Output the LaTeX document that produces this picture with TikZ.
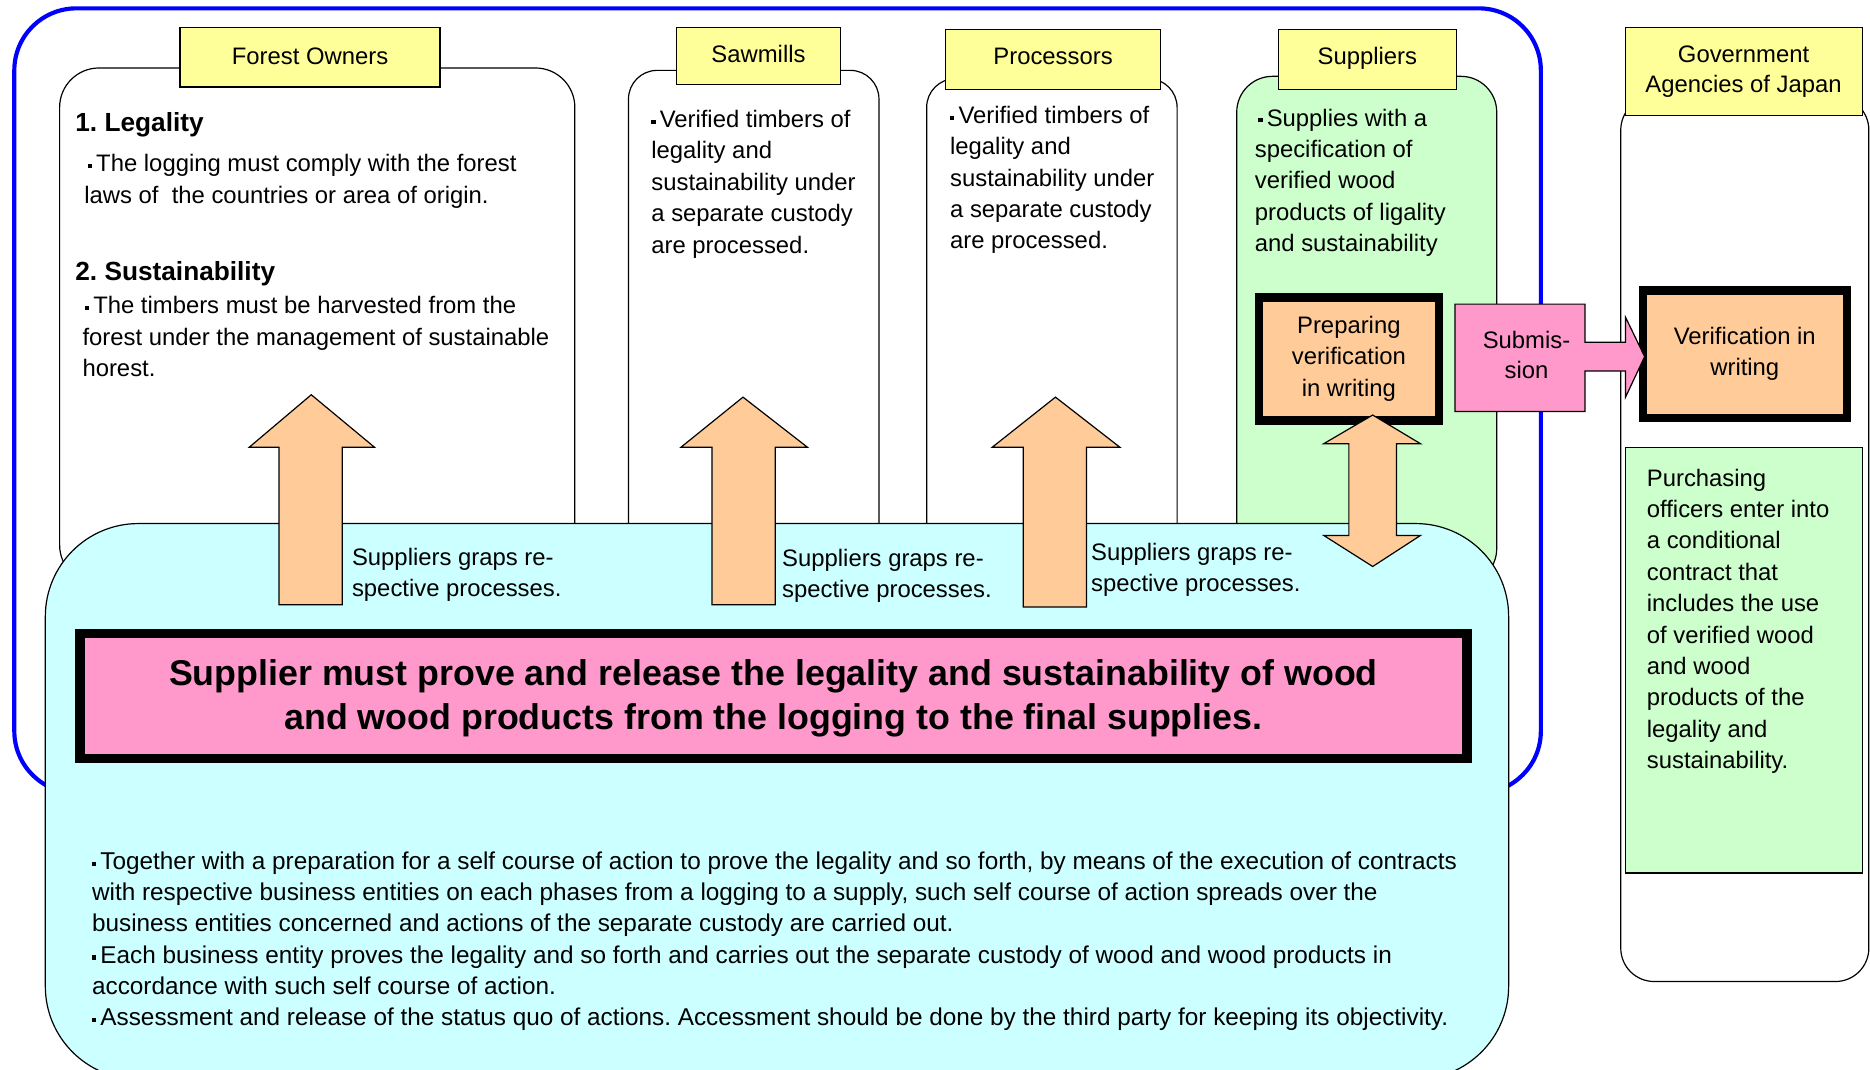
\documentclass[tikz,border=0pt]{standalone}
\usepackage{fontspec}
\setmainfont{Liberation Sans}
\frenchspacing
\definecolor{frameblue}{RGB}{0,0,255}
\definecolor{lblyellow}{RGB}{255,255,153}
\definecolor{boxcyan}{RGB}{204,255,255}
\definecolor{boxgreen}{RGB}{204,255,204}
\definecolor{boxpink}{RGB}{255,153,204}
\definecolor{boxorange}{RGB}{255,204,153}
\newcommand\bul{\rule[3pt]{3.5pt}{3.5pt}\hspace{3.5pt}}
\newcommand\fs{\fontsize{20}{26.3}\selectfont}
\newcommand\bfs{\fontsize{22}{26.3}\selectfont\bfseries}
\newcommand\tb[2]{\parbox[t]{#1}{\raggedright #2}}
\newcommand\tc[2]{\parbox[t]{#1}{\centering #2}}
\tikzset{
  thin/.style={draw=black, line width=1pt},
  colbox/.style={thin, fill=white, inner sep=0pt},
  lbl/.style={thin, fill=lblyellow, inner sep=0pt},
  thickbox/.style={draw=black, line width=7pt, fill=boxorange, inner sep=0pt},
  txt/.style={inner sep=0pt, anchor=base west, font=\fs},
  ctxt/.style={inner sep=0pt, anchor=base, font=\fs},
  blockarrow/.style={thin, fill=boxorange, line join=miter},
}
\begin{document}
\begin{tikzpicture}[x=1pt, y=-1pt]
\useasboundingbox (0,0) rectangle (1568,897);

% outer blue frame
\node[draw=frameblue, line width=3.5pt, rounded corners=52pt, minimum width=1280pt, minimum height=658pt, inner sep=0pt] (frame) at (652,336) {};

% column boxes
\node[colbox, rounded corners=33pt, minimum width=432pt, minimum height=433pt] (forest) at (266,273.5) {};
\node[colbox, rounded corners=24pt, minimum width=210pt, minimum height=431pt] (saw) at (632,274.5) {};
\node[colbox, rounded corners=24pt, minimum width=210pt, minimum height=424pt] (proc) at (882,278) {};
\node[colbox, fill=boxgreen, rounded corners=30pt, minimum width=218pt, minimum height=426pt] (supp) at (1146,277) {};
\node[colbox, rounded corners=28pt, minimum width=208pt, minimum height=742pt] (gov) at (1463,452) {};

% labels
\node[lbl, minimum width=218pt, minimum height=50pt] (lforest) at (260,48) {};
\node[ctxt] (tforest) at (260,54) {Forest Owners};
\node[lbl, minimum width=138pt, minimum height=48pt] (lsaw) at (636,47) {};
\node[ctxt] (tsaw) at (636,52) {Sawmills};
\node[lbl, minimum width=180pt, minimum height=50pt] (lproc) at (883,50) {};
\node[ctxt] (tproc) at (883,54.5) {Processors};
\node[lbl, minimum width=149pt, minimum height=50pt] (lsupp) at (1146.5,50) {};
\node[ctxt] (tsupp) at (1146.5,54.5) {Suppliers};
\node[lbl, minimum width=199pt, minimum height=74pt] (lgov) at (1462.5,60) {};
\node[ctxt] (tgov) at (1462,52) {\tc{200pt}{Government\\[-0.8pt]Agencies of Japan}};

% column texts
\node[txt, font=\bfs] (leg) at (63,110) {1. Legality};
\node[txt] (legt) at (70.5,144) {\tb{420pt}{\hspace*{3pt}\bul The logging must comply with the forest\\laws of\ \ the countries or area of origin.}};
\node[txt, font=\bfs] (sus) at (63,235) {2. Sustainability};
\node[txt] (sust) at (69,263) {\tb{420pt}{\hspace*{2pt}\bul The timbers must be harvested from the\\forest under the management of sustainable\\horest.}};
\node[txt] (sawt) at (546,107) {\tb{200pt}{\bul Verified timbers of\\legality and\\sustainability under\\a separate custody\\are processed.}};
\node[txt] (proct) at (796.5,103.5) {\tb{200pt}{\bul Verified timbers of\\legality and\\sustainability under\\a separate custody\\are processed.}};
\node[txt] (suppt) at (1052,105.7) {\tb{200pt}{\hspace*{3pt}\bul Supplies with a\\specification of\\verified wood\\products of ligality\\and sustainability}};

% preparing / verification / purchasing
\node[thickbox, minimum width=151pt, minimum height=103pt] (prep) at (1131,301) {};
\node[ctxt] (prept) at (1131,279.6) {\tc{150pt}{Preparing\\verification\\in writing}};
\node[thickbox, minimum width=171pt, minimum height=107pt] (verif) at (1463,297) {};
\node[ctxt] (veriftt) at (1463,288.5) {\tc{170pt}{Verification in\\writing}};
\node[thin, fill=boxgreen, inner sep=0pt, minimum width=199pt, minimum height=357pt] (purch) at (1462.5,553.5) {};
\node[txt] (purcht) at (1380.7,407.7) {\tb{180pt}{Purchasing\\officers enter into\\a conditional\\contract that\\includes the use\\of verified wood\\and wood\\products of the\\legality and\\sustainability.}};

% cyan box
\node[thin, fill=boxcyan, rounded corners=78pt, inner sep=0pt, minimum width=1227pt, minimum height=466pt] (cyan) at (651.5,672) {};

% pink main box
\node[draw=black, line width=8pt, fill=boxpink, inner sep=0pt, minimum width=1163pt, minimum height=105pt] (main) at (648.5,583.5) {};
\node[ctxt, font=\fontsize{30}{37}\selectfont\bfseries] (maint) at (648.5,574.6) {\tc{1150pt}{Supplier must prove and release the legality and sustainability of wood\\and wood products from the logging to the final supplies.}};

% block arrows
\draw[blockarrow] (234,507) -- (234,375) -- (209,375) -- (261,331) -- (314,375) -- (287,375) -- (287,507) -- cycle;
\draw[blockarrow] (597,507) -- (597,375) -- (571,375) -- (623,333) -- (677,375) -- (650,375) -- (650,507) -- cycle;
\draw[blockarrow] (858,509) -- (858,375) -- (832,375) -- (885,333) -- (939,375) -- (911,375) -- (911,509) -- cycle;
\draw[blockarrow] (1131,372) -- (1110,372) -- (1151,348) -- (1191,372) -- (1171,372) -- (1171,449) -- (1191,449) -- (1151,475) -- (1110,449) -- (1131,449) -- cycle;

% submission arrow
\draw[thin, fill=boxpink, line join=miter] (1220,255) -- (1329,255) -- (1329,287) -- (1363,287) -- (1363,266) -- (1379,299) -- (1363,333) -- (1363,311) -- (1329,311) -- (1329,345) -- (1220,345) -- cycle;
\node[ctxt] (subt) at (1280,292) {\tc{120pt}{Submis-\\[-1.3pt]sion}};

% arrow captions
\node[txt] (cap1) at (295,474) {\tb{220pt}{Suppliers graps re-\\[-0.3pt]spective processes.}};
\node[txt] (cap2) at (655.7,475) {\tb{220pt}{Suppliers graps re-\\[-0.3pt]spective processes.}};
\node[txt] (cap3) at (914.7,470) {\tb{220pt}{Suppliers graps re-\\[-0.3pt]spective processes.}};

% bottom text
\node[txt, font=\fontsize{20.4}{26.2}\selectfont] (bott) at (77,729) {\tb{1200pt}{\bul Together with a preparation for a self course of action to prove the legality and so forth, by means of the execution of contracts\\with respective business entities on each phases from a logging to a supply, such self course of action spreads over the\\business entities concerned and actions of the separate custody are carried out.\\\bul Each business entity proves the legality and so forth and carries out the separate custody of wood and wood products in\\accordance with such self course of action.\\\bul Assessment and release of the status quo of actions. Accessment should be done by the third party for keeping its objectivity.}};
\end{tikzpicture}
\end{document}
